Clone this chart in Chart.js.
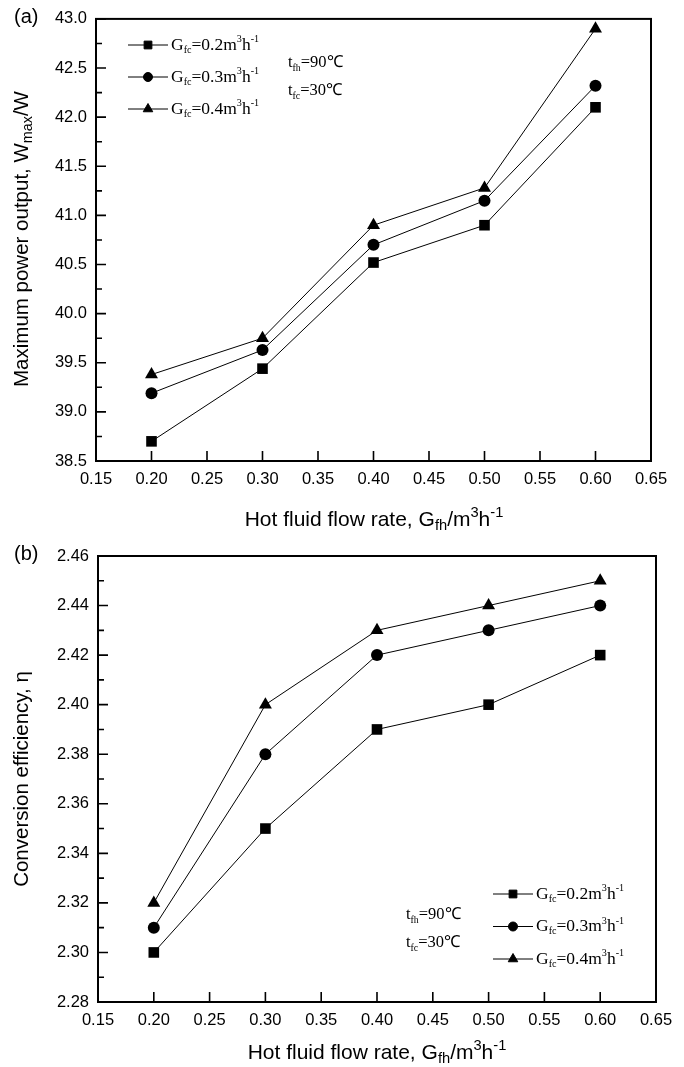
<!DOCTYPE html>
<html>
<head>
<meta charset="utf-8">
<script src="https://cdn.jsdelivr.net/npm/chart.js@4.4.1/dist/chart.umd.min.js"></script>
<style>
  body { margin: 0; background: #fff; }
  canvas { display: block; }
</style>
</head>
<body>
<canvas id="powerChart" width="684" height="535"></canvas>
<canvas id="effChart" width="684" height="532"></canvas>
<script>
// hot fluid flow rate (m3/h) for every measured point
const flowRates = [0.2, 0.3, 0.4, 0.5, 0.6];
const coldFlows = ['0.2', '0.3', '0.4'];
const markers = ['rect', 'circle', 'triangle'];

// maximum power output, W
const powerG02 = [38.70, 39.44, 40.52, 40.90, 42.10];
const powerG03 = [39.19, 39.63, 40.70, 41.15, 42.32];
const powerG04 = [39.38, 39.75, 40.90, 41.28, 42.90];

// conversion efficiency
const effG02 = [2.30, 2.35, 2.39, 2.40, 2.42];
const effG03 = [2.31, 2.38, 2.42, 2.43, 2.44];
const effG04 = [2.32, 2.40, 2.43, 2.44, 2.45];

const xTicks = [0.15, 0.20, 0.25, 0.30, 0.35, 0.40, 0.45, 0.50, 0.55, 0.60, 0.65];
const powerTicks = [38.5, 39.0, 39.5, 40.0, 40.5, 41.0, 41.5, 42.0, 42.5, 43.0];
const effTicks = [2.28, 2.30, 2.32, 2.34, 2.36, 2.38, 2.40, 2.42, 2.44, 2.46];

const SANS = '"Liberation Sans", Arial, sans-serif';
const SERIF = '"Liberation Serif", "Times New Roman", serif';

// text made of pieces: [string, ''|'sub'|'sup']
function richWidth(ctx, parts, size, family, small) {
    let w = 0;
    parts.forEach(([t, mode]) => {
        ctx.font = (mode ? size * small : size) + 'px ' + family;
        w += ctx.measureText(t).width;
    });
    return w;
}

function drawRich(ctx, parts, x, y, size, family, align, small = 0.62) {
    let cx = align === 'center' ? x - richWidth(ctx, parts, size, family, small) / 2 : x;
    ctx.textBaseline = 'middle';
    ctx.textAlign = 'left';
    parts.forEach(([t, mode]) => {
        ctx.font = (mode ? size * small : size) + 'px ' + family;
        let dy = 0;
        if (mode === 'sub') dy = size * 0.3;
        if (mode === 'sup') dy = -size * 0.32;
        ctx.fillText(t, cx, y + dy);
        cx += ctx.measureText(t).width;
    });
}

// box around the plot and inward ticks
const framePlugin = {
    id: 'frame',
    afterDraw(chart) {
        const { ctx, chartArea: a } = chart;
        const xs = chart.scales.x, ys = chart.scales.y;
        ctx.save();
        ctx.strokeStyle = '#000';
        ctx.lineWidth = 1.6;
        ctx.beginPath();
        xs.ticks.forEach(t => {
            const px = xs.getPixelForValue(t.value);
            ctx.moveTo(px, a.bottom);
            ctx.lineTo(px, a.bottom - 10);
        });
        ys.ticks.forEach((t, i) => {
            const py = ys.getPixelForValue(t.value);
            ctx.moveTo(a.left, py);
            ctx.lineTo(a.left + 10, py);
            if (i < ys.ticks.length - 1) {
                const mid = ys.getPixelForValue((t.value + ys.ticks[i + 1].value) / 2);
                ctx.moveTo(a.left, mid);
                ctx.lineTo(a.left + 6, mid);
            }
        });
        ctx.stroke();
        ctx.lineWidth = 2;
        ctx.strokeRect(a.left, a.top, a.right - a.left, a.bottom - a.top);
        ctx.restore();
    }
};

const legendRadius = { rect: 5.5, circle: 4.5, triangle: 5.5 };

// axis titles, panel letter, legend and test conditions
const textPlugin = {
    id: 'figText',
    afterDraw(chart, args, o) {
        const ctx = chart.ctx;
        ctx.save();
        ctx.fillStyle = '#000';
        ctx.font = '20px ' + SANS;
        ctx.textAlign = 'left';
        ctx.textBaseline = 'middle';
        ctx.fillText(o.panel, 14, o.panelY);

        drawRich(ctx, o.xTitle, o.xTitleX, o.xTitleY, 21, SANS, 'center', 0.7);

        ctx.save();
        ctx.translate(o.yTitleX, o.yTitleY);
        ctx.rotate(-Math.PI / 2);
        drawRich(ctx, o.yTitle, 0, 0, 20.5, SANS, 'center', 0.7);
        ctx.restore();

        const lg = o.legend;
        chart.data.datasets.forEach((ds, i) => {
            const y = lg.y + i * lg.gap;
            ctx.strokeStyle = '#000';
            ctx.lineWidth = 1;
            ctx.beginPath();
            ctx.moveTo(lg.x, y);
            ctx.lineTo(lg.x + 40, y);
            ctx.stroke();
            ctx.fillStyle = '#000';
            Chart.helpers.drawPoint(ctx, {
                pointStyle: ds.pointStyle, rotation: 0,
                radius: legendRadius[ds.pointStyle], borderWidth: 1
            }, lg.x + 20, y);
            drawRich(ctx, [['G', ''], ['fc', 'sub'], ['=' + coldFlows[i] + 'm', ''], ['3', 'sup'], ['h', ''], ['-1', 'sup']],
                lg.x + 43, y, 17.5, SERIF, 'left', 0.58);
        });

        drawRich(ctx, [['t', ''], ['fh', 'sub'], ['=90\u2103', '']], o.note.x, o.note.y, 16.5, SERIF, 'left', 0.6);
        drawRich(ctx, [['t', ''], ['fc', 'sub'], ['=30\u2103', '']], o.note.x, o.note.y + o.note.gap, 16.5, SERIF, 'left', 0.6);
        ctx.restore();
    }
};

function makeDatasets(series) {
    return series.map((vals, i) => ({
        label: 'Gfc=' + coldFlows[i],
        data: vals.map((v, j) => ({ x: flowRates[j], y: v })),
        borderColor: '#000',
        borderWidth: 1,
        backgroundColor: '#000',
        pointStyle: markers[i],
        pointRadius: markers[i] === 'circle' ? 6 : 7.5,
        pointBackgroundColor: '#000',
        pointBorderColor: '#000',
        pointBorderWidth: 0,
        tension: 0,
        clip: false
    }));
}

function makeChart(id, series, yTicks, decimals, geo, text) {
    return new Chart(document.getElementById(id), {
        type: 'line',
        data: { datasets: makeDatasets(series) },
        plugins: [framePlugin, textPlugin],
        options: {
            responsive: false,
            devicePixelRatio: 1,
            animation: false,
            layout: { padding: { left: 0, top: geo.top, right: geo.right, bottom: 0 } },
            plugins: {
                legend: { display: false },
                tooltip: { enabled: false },
                figText: text
            },
            scales: {
                x: {
                    type: 'linear',
                    min: 0.15,
                    max: 0.65,
                    afterBuildTicks: s => { s.ticks = xTicks.map(v => ({ value: v })); },
                    afterFit: s => { s.height = geo.xHeight; },
                    grid: { display: false, drawTicks: false },
                    border: { display: false },
                    ticks: {
                        color: '#000',
                        padding: 9,
                        maxRotation: 0,
                        autoSkip: false,
                        font: { family: SANS, size: 16.5 },
                        callback: v => v.toFixed(2)
                    }
                },
                y: {
                    type: 'linear',
                    min: yTicks[0],
                    max: yTicks[yTicks.length - 1],
                    afterBuildTicks: s => { s.ticks = yTicks.map(v => ({ value: v })); },
                    afterFit: s => { s.width = geo.yWidth; },
                    grid: { display: false, drawTicks: false },
                    border: { display: false },
                    ticks: {
                        color: '#000',
                        padding: 9,
                        autoSkip: false,
                        font: { family: SANS, size: 16.5 },
                        callback: v => v.toFixed(decimals)
                    }
                }
            }
        }
    });
}

const xTitle = [['Hot fluid flow rate, G', ''], ['fh', 'sub'], ['/m', ''], ['3', 'sup'], ['h', ''], ['-1', 'sup']];

makeChart('powerChart', [powerG02, powerG03, powerG04], powerTicks, 1,
    { top: 17, right: 33, yWidth: 96, xHeight: 74 },
    {
        panel: '(a)', panelY: 17,
        xTitle: xTitle, xTitleX: 374, xTitleY: 520,
        yTitle: [['Maximum power output, W', ''], ['max', 'sub'], ['/W', '']], yTitleX: 22, yTitleY: 239,
        legend: { x: 128, y: 45, gap: 32 },
        note: { x: 288, y: 63, gap: 28 }
    });

makeChart('effChart', [effG02, effG03, effG04], effTicks, 2,
    { top: 21, right: 28, yWidth: 98, xHeight: 65 },
    {
        panel: '(b)', panelY: 19,
        xTitle: xTitle, xTitleX: 377, xTitleY: 518,
        yTitle: [['Conversion efficiency, \u03b7', '']], yTitleX: 22, yTitleY: 244,
        legend: { x: 493, y: 359, gap: 32.5 },
        note: { x: 406, y: 380, gap: 28 }
    });
</script>
</body>
</html>
